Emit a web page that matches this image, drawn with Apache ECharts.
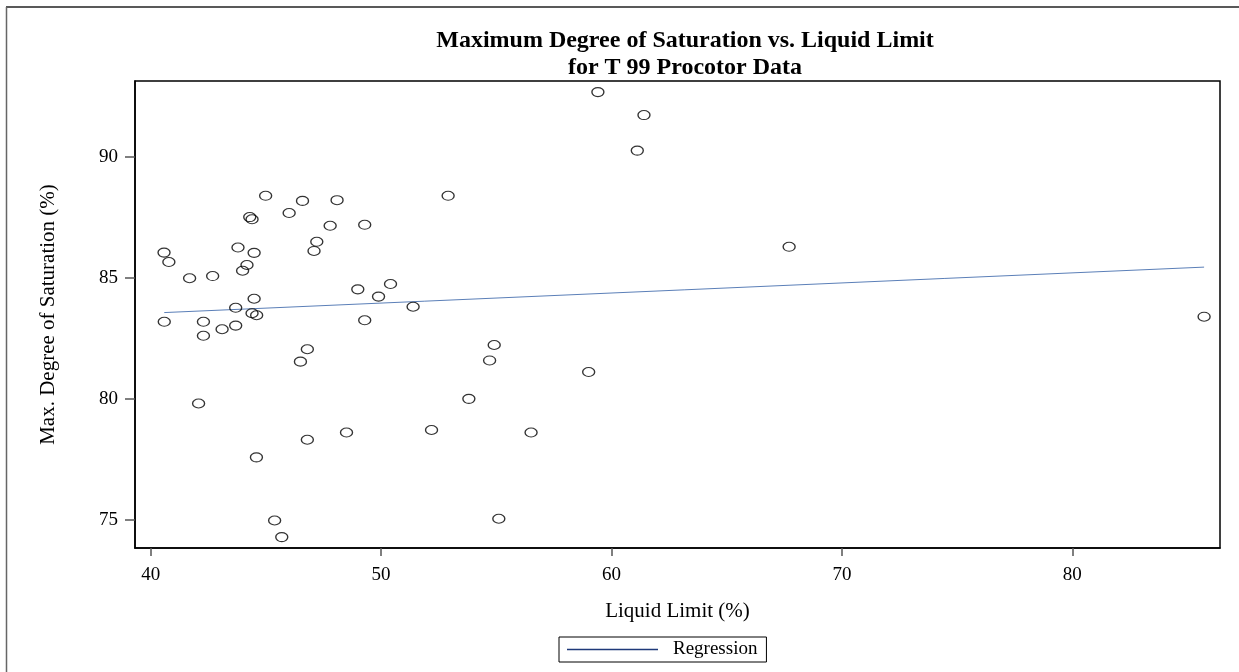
<!DOCTYPE html>
<html>
<head>
<meta charset="utf-8">
<script src="https://cdn.jsdelivr.net/npm/echarts@6/dist/echarts.min.js"></script>
<style>
  html, body { margin: 0; padding: 0; background: #fff; }
  #chart { width: 1239px; height: 672px; }
</style>
</head>
<body>
<div id="chart"></div>
<script>
// Liquid limit (%) and maximum degree of saturation (%) for each T 99 Proctor test
const liquidLimit = [
  44.99, 46.59, 48.09, 52.91, 44.30, 44.40, 46.01, 47.79, 49.29, 47.21,
  47.09, 40.58, 40.79, 43.79, 44.49, 44.18, 43.99, 41.69, 42.69, 48.99,
  50.41, 49.89, 44.49, 43.69, 44.40, 44.60, 40.59, 42.29, 43.10, 43.69,
  42.29, 51.39, 49.29, 46.80, 46.50, 54.91, 54.71, 42.08, 53.81, 48.50,
  46.80, 52.19, 56.51, 44.59, 45.38, 45.69, 55.11, 59.01, 59.41, 61.41,
  61.12, 67.71, 85.72
];
const maxSaturation = [
  88.40, 88.19, 88.22, 88.40, 87.52, 87.43, 87.69, 87.16, 87.20, 86.50,
  86.12, 86.05, 85.66, 86.26, 86.04, 85.54, 85.30, 84.99, 85.08, 84.53,
  84.75, 84.23, 84.14, 83.77, 83.54, 83.46, 83.19, 83.19, 82.88, 83.03,
  82.61, 83.81, 83.25, 82.05, 81.54, 82.23, 81.59, 79.81, 80.00, 78.61,
  78.31, 78.71, 78.61, 77.58, 74.97, 74.28, 75.04, 81.11, 92.69, 91.74,
  90.27, 86.29, 83.40
];

// Fitted regression line, given by its two end points
const regressionX = [40.59, 85.72];
const regressionY = [83.57, 85.45];

// Axis tick values
const xTicks = [40, 50, 60, 70, 80];
const yTicks = [75, 80, 85, 90];

const points = liquidLimit.map((x, i) => [x, maxSaturation[i]]);
const regression = regressionX.map((x, i) => [x, regressionY[i]]);

const serif = '"Liberation Serif", "Times New Roman", serif';

const chart = echarts.init(document.getElementById('chart'), null, { renderer: 'canvas' });

chart.setOption({
  backgroundColor: '#ffffff',
  animation: false,
  title: {
    text: 'Maximum Degree of Saturation vs. Liquid Limit\nfor T 99 Procotor Data',
    left: 680,
    top: 22,
    textAlign: 'center',
    textStyle: {
      fontFamily: serif,
      fontWeight: 'bold',
      fontSize: 24,
      lineHeight: 27,
      color: '#000'
    }
  },
  graphic: [
    { type: 'line', shape: { x1: 6, y1: 7, x2: 1239, y2: 7 }, style: { stroke: '#222', lineWidth: 1.5 } },
    { type: 'line', shape: { x1: 6.5, y1: 7, x2: 6.5, y2: 672 }, style: { stroke: '#666', lineWidth: 1.5 } }
  ],
  grid: {
    left: 135,
    right: 19,
    top: 81,
    bottom: 124,
    show: true,
    borderColor: '#000',
    borderWidth: 1.5,
    backgroundColor: 'transparent'
  },
  legend: {
    data: [{
      name: 'Regression',
      icon: 'rect',
      itemStyle: { color: '#1f3a7a', borderWidth: 0 }
    }],
    left: 559,
    top: 637,
    orient: 'horizontal',
    itemWidth: 91,
    itemHeight: 1.3,
    padding: [3, 9, 3, 8],
    borderColor: '#000',
    borderWidth: 1,
    textStyle: {
      fontFamily: serif,
      fontSize: 19,
      color: '#000',
      padding: [0, 0, 0, 10]
    }
  },
  xAxis: {
    type: 'value',
    min: 39.32,
    max: 86.41,
    name: 'Liquid Limit (%)',
    nameLocation: 'middle',
    nameGap: 53,
    nameTextStyle: { fontFamily: serif, fontSize: 21, color: '#000' },
    axisLine: { show: true, onZero: false, lineStyle: { color: '#000', width: 1.5 } },
    axisTick: { show: true, inside: false, length: 8, customValues: xTicks, lineStyle: { color: '#555', width: 1.5 } },
    axisLabel: { customValues: xTicks, margin: 18, fontFamily: serif, fontSize: 19, color: '#000' },
    splitLine: { show: false }
  },
  yAxis: {
    type: 'value',
    min: 73.83,
    max: 93.15,
    name: 'Max. Degree of Saturation (%)',
    nameLocation: 'middle',
    nameRotate: 90,
    nameGap: 76,
    nameTextStyle: { fontFamily: serif, fontSize: 21, color: '#000' },
    axisLine: { show: true, onZero: false, lineStyle: { color: '#000', width: 1.5 } },
    axisTick: { show: true, inside: false, length: 10, customValues: yTicks, lineStyle: { color: '#555', width: 1.5 } },
    axisLabel: { customValues: yTicks, margin: 17, fontFamily: serif, fontSize: 19, color: '#000' },
    splitLine: { show: false }
  },
  series: [
    {
      name: 'Data',
      type: 'scatter',
      data: points,
      symbol: 'circle',
      symbolSize: [12, 9],
      itemStyle: { color: 'rgba(0,0,0,0)', borderColor: '#000', borderWidth: 1.2 },
      emphasis: { disabled: true },
      z: 3
    },
    {
      name: 'Regression',
      type: 'line',
      data: regression,
      symbol: 'none',
      lineStyle: { color: '#5b7fb8', width: 1 },
      emphasis: { disabled: true },
      z: 2
    }
  ]
});
</script>
</body>
</html>
